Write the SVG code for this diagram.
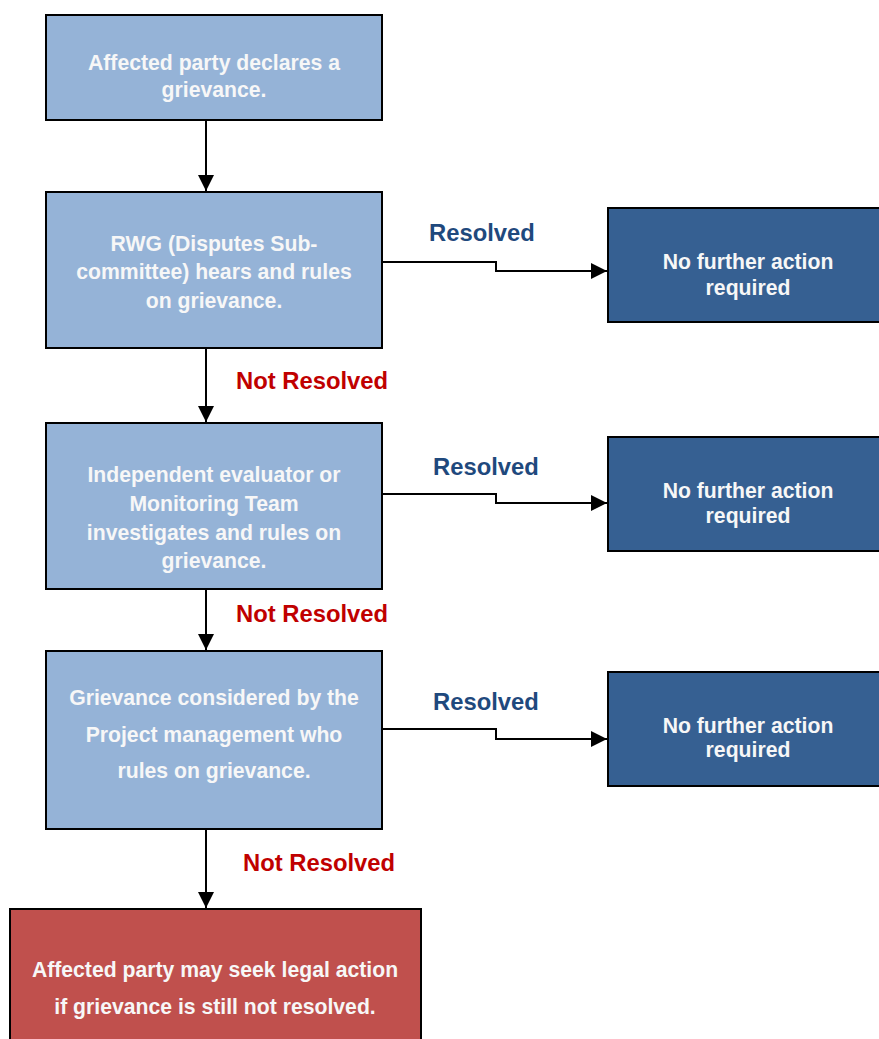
<svg xmlns="http://www.w3.org/2000/svg" width="879" height="1039" viewBox="0 0 879 1039">
<style>
.box{stroke:#000;stroke-width:2}
.lt{fill:#95B3D7}
.dk{fill:#366092}
.rd{fill:#C0504D}
.t{font-family:"Liberation Sans",Arial,sans-serif;font-weight:bold;font-size:21.2px;fill:#F7F7F7;text-anchor:middle}
.lb{font-family:"Liberation Sans",Arial,sans-serif;font-weight:bold;font-size:23.8px}
.res{fill:#1F497D}
.nr{fill:#C00000}
.c{fill:none;stroke:#000;stroke-width:2}
</style>
<defs>
<marker id="a" viewBox="0 0 16 16" refX="16" refY="8" markerWidth="16" markerHeight="16" markerUnits="userSpaceOnUse" orient="auto">
<path d="M0,0 L16,8 L0,16 Z" fill="#000"/>
</marker>
</defs>
<g id="connectors">
<path class="c" d="M206,120 V191" marker-end="url(#a)"/>
<path class="c" d="M206,348 V422" marker-end="url(#a)"/>
<path class="c" d="M206,589 V650" marker-end="url(#a)"/>
<path class="c" d="M206,829 V908" marker-end="url(#a)"/>
<path class="c" d="M382,262 H496 V271 H607" marker-end="url(#a)"/>
<path class="c" d="M382,494 H496 V503 H607" marker-end="url(#a)"/>
<path class="c" d="M382,729 H496 V739 H607" marker-end="url(#a)"/>
<text class="lb res" x="429" y="241">Resolved</text>
<text class="lb res" x="433" y="475">Resolved</text>
<text class="lb res" x="433" y="710">Resolved</text>
<text class="lb nr" x="236" y="389">Not Resolved</text>
<text class="lb nr" x="236" y="622">Not Resolved</text>
<text class="lb nr" x="243" y="871">Not Resolved</text>
</g>
<g id="n1">
<rect class="box lt" x="46" y="15" width="336" height="105"/>
<text class="t" x="214" y="70">Affected party declares a</text>
<text class="t" x="214" y="97">grievance.</text>
</g>
<g id="n2">
<rect class="box lt" x="46" y="192" width="336" height="156"/>
<text class="t" x="214" y="251">RWG (Disputes Sub-</text>
<text class="t" x="214" y="279">committee) hears and rules</text>
<text class="t" x="214" y="308">on grievance.</text>
</g>
<g id="n3">
<rect class="box lt" x="46" y="423" width="336" height="166"/>
<text class="t" x="214" y="482">Independent evaluator or</text>
<text class="t" x="214" y="511">Monitoring Team</text>
<text class="t" x="214" y="540">investigates and rules on</text>
<text class="t" x="214" y="568">grievance.</text>
</g>
<g id="n4">
<rect class="box lt" x="46" y="651" width="336" height="178"/>
<text class="t" x="214" y="705">Grievance considered by the</text>
<text class="t" x="214" y="742">Project management who</text>
<text class="t" x="214" y="778">rules on grievance.</text>
</g>
<g id="n5">
<rect class="box rd" x="10" y="909" width="411" height="140"/>
<text class="t" x="215" y="977">Affected party may seek legal action</text>
<text class="t" x="215" y="1014">if grievance is still not resolved.</text>
</g>
<g id="r1">
<rect class="box dk" x="608" y="208" width="280" height="114"/>
<text class="t" x="748" y="269">No further action</text>
<text class="t" x="748" y="295">required</text>
</g>
<g id="r2">
<rect class="box dk" x="608" y="437" width="280" height="114"/>
<text class="t" x="748" y="498">No further action</text>
<text class="t" x="748" y="523">required</text>
</g>
<g id="r3">
<rect class="box dk" x="608" y="672" width="280" height="114"/>
<text class="t" x="748" y="733">No further action</text>
<text class="t" x="748" y="757">required</text>
</g>
</svg>
